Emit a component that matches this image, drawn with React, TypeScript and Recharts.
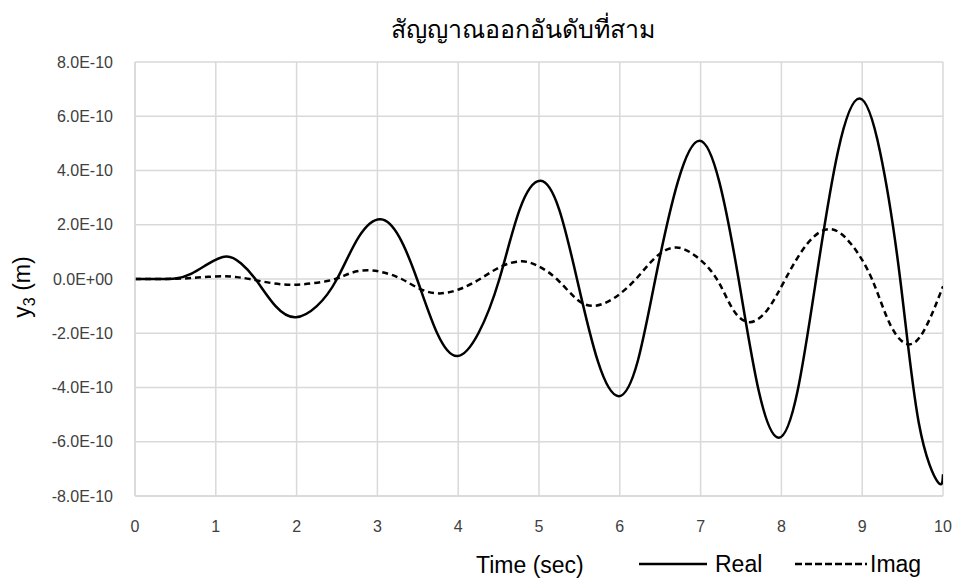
import React from 'react';
import { LineChart, Line, XAxis, YAxis, CartesianGrid, Legend } from 'recharts';

// Time (sec) and values in units of 1e-10 m
const tReal = [0, 0.25, 0.5, 0.7, 0.9, 1.13, 1.31, 1.49, 1.74, 1.99, 2.25, 2.5, 2.77, 3.04, 3.27, 3.49, 3.74, 3.99, 4.25, 4.51, 4.76, 5.02, 5.25, 5.47, 5.73, 5.99, 6.22, 6.44, 6.72, 6.99, 7.23, 7.47, 7.72, 7.97, 8.2, 8.43, 8.7, 8.97, 9.22, 9.47, 9.7, 9.94, 10];
const realE10 = [0, 0, 0.02, 0.2, 0.55, 0.83, 0.58, 0, -1.0, -1.41, -1.0, 0, 1.55, 2.2, 1.55, 0, -2.0, -2.84, -2.0, 0, 2.56, 3.62, 2.56, 0, -3.05, -4.32, -3.05, 0, 3.6, 5.1, 3.6, 0, -4.13, -5.85, -4.13, 0, 4.7, 6.65, 4.7, 0, -5.3, -7.5, -7.2];

const tImag = [0, 0.3, 0.6, 0.85, 1.09, 1.25, 1.42, 1.69, 1.96, 2.22, 2.48, 2.68, 2.89, 3.09, 3.3, 3.53, 3.77, 4.02, 4.27, 4.53, 4.79, 5.0, 5.22, 5.45, 5.67, 5.93, 6.2, 6.45, 6.7, 6.95, 7.2, 7.4, 7.61, 7.83, 8.05, 8.32, 8.6, 8.86, 9.12, 9.35, 9.59, 9.8, 10];
const imagE10 = [0, 0, 0.02, 0.07, 0.1, 0.07, 0, -0.15, -0.21, -0.15, 0, 0.23, 0.32, 0.23, 0, -0.37, -0.53, -0.37, 0, 0.46, 0.65, 0.46, 0, -0.7, -0.99, -0.7, 0, 0.82, 1.16, 0.82, 0, -1.12, -1.59, -1.12, 0, 1.3, 1.84, 1.3, 0, -1.7, -2.41, -1.7, -0.27];

const xTicks = [0, 1, 2, 3, 4, 5, 6, 7, 8, 9, 10];
const yTicksE10 = [-8, -6, -4, -2, 0, 2, 4, 6, 8];

const TITLE = 'สัญญาณออกอันดับที่สาม';
const X_TITLE = 'Time (sec)';
const SERIES_NAMES = ['Real', 'Imag'];

const UNIT = 1e-10;
const realData = tReal.map((t, i) => ({ t, v: realE10[i] * UNIT }));
const imagData = tImag.map((t, i) => ({ t, v: imagE10[i] * UNIT }));
const yTicks = yTicksE10.map((v) => v * UNIT);

const fmtExp = (v: number) => {
  const s = Number(v).toExponential(1);
  const [m, e] = s.split('e');
  const sign = e[0];
  const digits = e.slice(1).padStart(2, '0');
  return `${m}E${sign}${digits}`;
};

const FONT = '"Liberation Sans", Arial, sans-serif';
const GRID = '#d9d9d9';

const LegendContent = () => (
  <svg width={320} height={36} style={{ display: 'block' }}>
    <line x1={9} x2={77} y1={18} y2={18} stroke="#000" strokeWidth={2.5} />
    <text x={85} y={26} fontSize={23} fontFamily={FONT} fill="#000">{SERIES_NAMES[0]}</text>
    <line x1={165} x2={237} y1={18} y2={18} stroke="#000" strokeWidth={2.5} strokeDasharray="7 3" />
    <text x={240} y={26} fontSize={23} fontFamily={FONT} fill="#000">{SERIES_NAMES[1]}</text>
  </svg>
);

export default function App() {
  return (
    <div style={{ position: 'absolute', left: 0, top: 0, width: 957, height: 580, background: '#fff', fontFamily: FONT }}>
      <LineChart width={957} height={580} margin={{ top: 62, right: 14, bottom: 18, left: 0 }}>
        <CartesianGrid stroke={GRID} strokeWidth={1.5} />
        <XAxis
          type="number"
          dataKey="t"
          domain={[0, 10]}
          ticks={xTicks}
          height={30}
          tickLine={false}
          tickMargin={19}
          axisLine={{ stroke: GRID, strokeWidth: 1.5 }}
          tick={{ fontSize: 16, fill: '#404040', fontFamily: FONT }}
          allowDataOverflow
        />
        <YAxis
          type="number"
          domain={[-8 * UNIT, 8 * UNIT]}
          ticks={yTicks}
          width={135}
          tickLine={false}
          tickMargin={16}
          tickFormatter={fmtExp}
          axisLine={{ stroke: GRID, strokeWidth: 1.5 }}
          tick={{ fontSize: 16, fill: '#404040', fontFamily: FONT }}
          allowDataOverflow
        />
        <Legend
          content={<LegendContent />}
          wrapperStyle={{ position: 'absolute', left: 630, top: 546, width: 320, height: 36 }}
        />
        <Line
          data={realData}
          dataKey="v"
          name={SERIES_NAMES[0]}
          type="natural"
          stroke="#000"
          strokeWidth={2.5}
          dot={false}
          activeDot={false}
          isAnimationActive={false}
        />
        <Line
          data={imagData}
          dataKey="v"
          name={SERIES_NAMES[1]}
          type="natural"
          stroke="#000"
          strokeWidth={2.5}
          strokeDasharray="6 4"
          dot={false}
          activeDot={false}
          isAnimationActive={false}
        />
      </LineChart>
      <svg width={957} height={580} style={{ position: 'absolute', left: 0, top: 0, pointerEvents: 'none' }}>
        <text x={523} y={38} textAnchor="middle" fontSize={25} fontFamily={'"Noto Sans", "DejaVu Sans", sans-serif'} fill="#000">{TITLE}</text>
        <text x={476} y={573} fontSize={23} fontFamily={FONT} fill="#000">{X_TITLE}</text>
        <text transform="translate(30, 287) rotate(-90)" textAnchor="middle" fontSize={23} fontFamily={FONT} fill="#000">
          <tspan>y</tspan>
          <tspan fontSize={16} dy={5}>3</tspan>
          <tspan dy={-5}> (m)</tspan>
        </text>
      </svg>
    </div>
  );
}
